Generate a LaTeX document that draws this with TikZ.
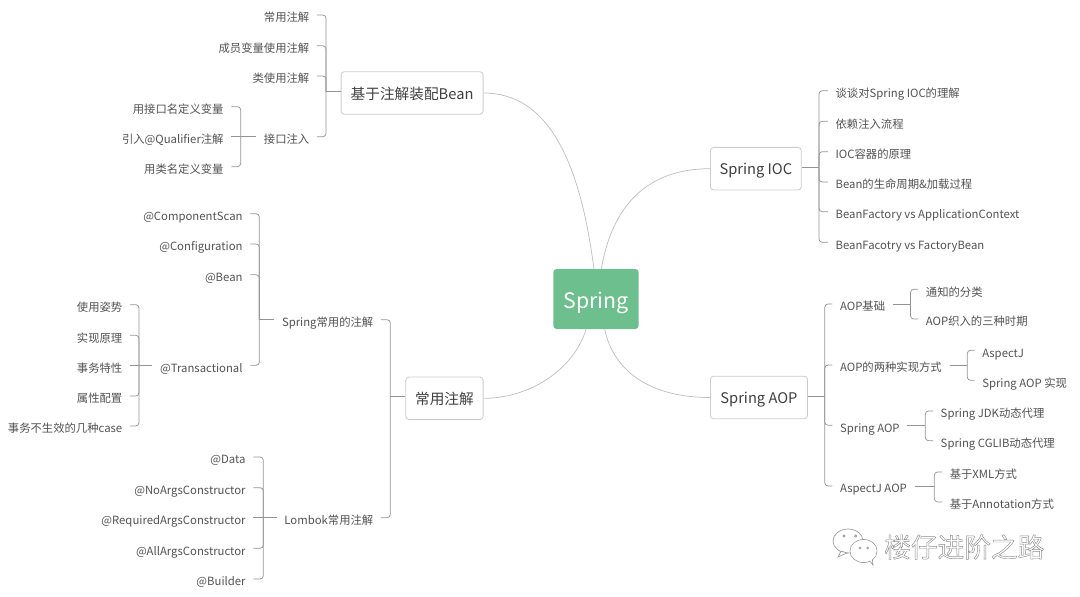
\documentclass[tikz,border=0pt]{standalone}
\usepackage{fontspec}
\setmainfont{Noto Sans CJK SC}
\usetikzlibrary{calc}

\begin{document}
\begin{tikzpicture}[
  x=0.75pt, y=-0.75pt,
  font=\fontsize{8.5pt}{10pt}\selectfont,
  txt/.style={text=black!68, inner xsep=5.6pt, inner ysep=0pt, text height=10.7pt, text depth=0.6pt},
  leafl/.style={txt, anchor=east},
  leafr/.style={txt, anchor=west},
  topic/.style={draw=black!20, line width=0.6pt, fill=white, rounded corners=2.5pt,
                minimum height=32pt, inner xsep=0pt, inner ysep=0pt, text=black!75,
                text height=10.5pt, text depth=1.5pt,
                font=\fontsize{11pt}{13pt}\selectfont},
  root/.style={fill=rootgreen, rounded corners=2.5pt, text=white, minimum width=64pt,
               minimum height=45pt, inner sep=0pt, text height=15pt, text depth=1.4pt,
               font=\fontsize{16pt}{19pt}\selectfont},
  branch/.style={draw=black!42, line width=0.55pt, rounded corners=2.4pt},
  curve/.style={draw=black!25, line width=0.55pt},
]
\definecolor{rootgreen}{HTML}{6DBF8E}
\useasboundingbox (0,0) rectangle (1080,596);

% ---- root and topics ----
\node[root] (spring) at (596,299) {Spring};
\node[topic, anchor=east, minimum width=106.5pt] (anno) at (483.5,93)    {基于注解装配Bean};
\node[topic, anchor=east, minimum width=58pt] (common) at (483.5,398.3) {常用注解};
\node[topic, anchor=west, minimum width=68.2pt] (ioc) at (710,168.7)    {Spring IOC};
\node[topic, anchor=west, minimum width=72.8pt] (aop) at (710,397.5)    {Spring AOP};

\draw[curve] (spring.80) .. controls +(11,-64) and +(-62,0) .. (ioc.west);
\draw[curve] (spring.94) .. controls +(-14,-109) and +(64,0) .. (anno.east);
\draw[curve] (spring.252) .. controls +(-13,41) and +(46,0) .. (common.east);
\draw[curve] (spring.286) .. controls +(9,42) and +(-60,0) .. (aop.west);

% ---- 基于注解装配Bean ----
\coordinate (annobus) at (326,91.5);
\node[leafl] (a1) at (317,15)    {常用注解};
\node[leafl] (a2) at (317,45.7)  {成员变量使用注解};
\node[leafl] (a3) at (317,76)    {类使用注解};
\node[leafl] (a4) at (317,136.7) {接口注入};
\coordinate (ifbus) at (240.7,136.7);
\node[leafl] (b1) at (231.3,106.7) {用接口名定义变量};
\node[leafl] (b2) at (231.3,136.7) {引入@Qualifier注解};
\node[leafl] (b3) at (231.3,166.7) {用类名定义变量};

\draw[branch] (annobus -| anno.west) -- (annobus);
\foreach \n in {a1,a2,a3,a4} \draw[branch] (\n.east) -| (annobus);
\draw[branch] (a4.west) -- (ifbus);
\foreach \n in {b1,b3} \draw[branch] (\n.east) -| (ifbus);
\draw[branch] (b2.east) -- (ifbus);

% ---- 常用注解 ----
\coordinate (combus) at (390.3,396);
\node[leafl] (c1) at (381,319.7) {Spring常用的注解};
\node[leafl] (c2) at (381,517.7) {Lombok常用注解};
\draw[branch] (combus -| common.west) -- (combus);
\foreach \n in {c1,c2} \draw[branch] (\n.east) -| (combus);

\coordinate (sprbus) at (259.3,319.7);
\node[leafl] (d1) at (250.3,213.7) {@ComponentScan};
\node[leafl] (d2) at (250.3,244)   {@Configuration};
\node[leafl] (d3) at (250.3,274.7) {@Bean};
\node[leafl] (d4) at (250.3,365.3) {@Transactional};
\draw[branch] (c1.west) -- (sprbus);
\foreach \n in {d1,d2,d3,d4} \draw[branch] (\n.east) -| (sprbus);

\coordinate (txbus) at (139,365.3);
\node[leafl] (e1) at (130,304.7) {使用姿势};
\node[leafl] (e2) at (130,335.3) {实现原理};
\node[leafl] (e3) at (130,365.3) {事务特性};
\node[leafl] (e4) at (130,396)   {属性配置};
\node[leafl] (e5) at (130,426)   {事务不生效的几种case};
\draw[branch] (d4.west) -- (txbus);
\foreach \n in {e1,e2,e4,e5} \draw[branch] (\n.east) -| (txbus);
\draw[branch] (e3.east) -- (txbus);

\coordinate (lombus) at (263.3,517.7);
\node[leafl] (f1) at (253.3,457)   {@Data};
\node[leafl] (f2) at (253.3,487.7) {@NoArgsConstructor};
\node[leafl] (f3) at (253.3,517.7) {@RequiredArgsConstructor};
\node[leafl] (f4) at (253.3,548.3) {@AllArgsConstructor};
\node[leafl] (f5) at (253.3,579)   {@Builder};
\draw[branch] (c2.west) -- (lombus);
\foreach \n in {f1,f2,f4,f5} \draw[branch] (\n.east) -| (lombus);
\draw[branch] (f3.east) -- (lombus);

% ---- Spring IOC ----
\coordinate (iocbus) at (819,167.3);
\node[leafr] (g1) at (827.9,90.7)  {谈谈对Spring IOC的理解};
\node[leafr] (g2) at (827.9,121.3) {依赖注入流程};
\node[leafr] (g3) at (827.9,151.7) {IOC容器的原理};
\node[leafr] (g4) at (827.9,182)   {Bean的生命周期\&加载过程};
\node[leafr] (g5) at (827.9,211.7) {BeanFactory vs ApplicationContext};
\node[leafr] (g6) at (827.9,242.3) {BeanFacotry vs FactoryBean};
\draw[branch] (iocbus -| ioc.east) -- (iocbus);
\foreach \n in {g1,g2,g3,g4,g5,g6} \draw[branch] (\n.west) -| (iocbus);

% ---- Spring AOP ----
\coordinate (aopbus) at (824.8,396.3);
\node[leafr] (h1) at (832.4,304)   {AOP基础};
\node[leafr] (h2) at (832.4,365)   {AOP的两种实现方式};
\node[leafr] (h3) at (832.4,425.3) {Spring AOP};
\node[leafr] (h4) at (832.4,486)   {AspectJ AOP};
\draw[branch] (aopbus -| aop.east) -- (aopbus);
\foreach \n in {h1,h2,h3,h4} \draw[branch] (\n.west) -| (aopbus);

\coordinate (basebus) at (910.5,304);
\node[leafr] (i1) at (918.2,289.3) {通知的分类};
\node[leafr] (i2) at (918.2,319)   {AOP织入的三种时期};
\draw[branch] (h1.east) -- (basebus);
\foreach \n in {i1,i2} \draw[branch] (\n.west) -| (basebus);

\coordinate (implbus) at (967.3,365);
\node[leafr] (j1) at (974.5,350.3) {AspectJ};
\node[leafr] (j2) at (974.5,380.3) {Spring AOP 实现};
\draw[branch] (h2.east) -- (implbus);
\foreach \n in {j1,j2} \draw[branch] (\n.west) -| (implbus);

\coordinate (proxbus) at (925.3,425.3);
\node[leafr] (k1) at (933,411)   {Spring JDK动态代理};
\node[leafr] (k2) at (933,440.7) {Spring CGLIB动态代理};
\draw[branch] (h3.east) -- (proxbus);
\foreach \n in {k1,k2} \draw[branch] (\n.west) -| (proxbus);

\coordinate (ajbus) at (934.3,486);
\node[leafr] (l1) at (942,472) {基于XML方式};
\node[leafr] (l2) at (942,502) {基于Annotation方式};
\draw[branch] (h4.east) -- (ajbus);
\foreach \n in {l1,l2} \draw[branch] (\n.west) -| (ajbus);

% ---- watermark ----
\node[anchor=west, inner sep=0pt, text=black!45, font=\fontsize{20pt}{24pt}\selectfont] (mark) at (884,547)
  {\special{pdf:code 1 Tr 0.35 w}楼仔进阶之路\special{pdf:code 0 Tr}};
\begin{scope}[draw=black!40, line width=0.5pt, fill=white]
  \filldraw (848,541) ellipse (15 and 12);
  \filldraw (841,551) -- (838,557) -- (847,553) -- cycle;
  \filldraw (863.5,551) ellipse (13.5 and 11.5);
  \filldraw (869,560) -- (873,565) -- (872,557) -- cycle;
  \fill[white] (863.5,551) ellipse (13 and 11);
  \draw (844,536) circle (1.1) (855.7,536) circle (1.1);
  \draw (860,548) circle (1) (867.7,548) circle (1);
\end{scope}
\end{tikzpicture}
\end{document}
